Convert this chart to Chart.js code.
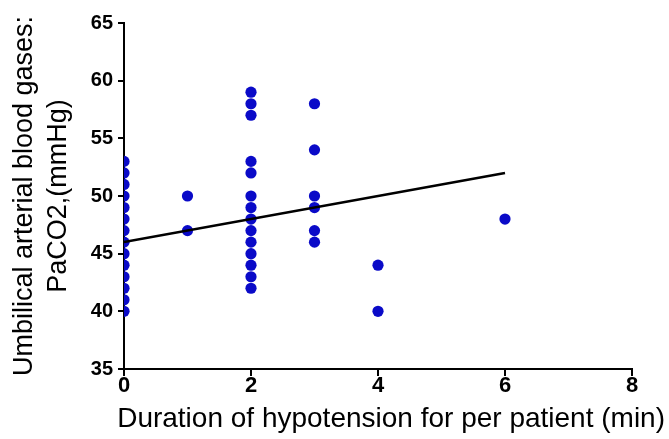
<!DOCTYPE html>
<html>
<head>
<meta charset="utf-8">
<script src="https://cdn.jsdelivr.net/npm/chart.js@4/dist/chart.umd.min.js"></script>
<style>
  html, body { margin: 0; padding: 0; background: #fff; }
  #wrap { width: 669px; height: 439px; position: relative; }
</style>
</head>
<body>
<div id="wrap"><canvas id="c" width="669" height="439"></canvas></div>
<script>
// Data
const durationGroups = [0, 1, 2, 3, 4, 6];
const paco2At0 = [40, 41, 42, 43, 44, 45, 46, 47, 48, 49, 50, 51, 52, 53];
const paco2At1 = [47, 50];
const paco2At2 = [42, 43, 44, 45, 46, 47, 48, 49, 50, 52, 53, 57, 58, 59];
const paco2At3 = [46, 47, 49, 50, 54, 58];
const paco2At4 = [40, 44];
const paco2At6 = [48];
const fitX = [0, 6];
const fitY = [46.0, 52.0];
const xTicks = [0, 2, 4, 6, 8];
const yTicks = [35, 40, 45, 50, 55, 60, 65];

const groups = [paco2At0, paco2At1, paco2At2, paco2At3, paco2At4, paco2At6];
const scatterPoints = [];
groups.forEach((vals, i) => vals.forEach(v => scatterPoints.push({ x: durationGroups[i], y: v })));
const fitPoints = fitX.map((x, i) => ({ x: x, y: fitY[i] }));

const FONT = "'Liberation Sans', Arial, sans-serif";

new Chart(document.getElementById('c'), {
  type: 'scatter',
  data: {
    datasets: [
      {
        type: 'line',
        data: fitPoints,
        borderColor: '#000',
        borderWidth: 2.5,
        pointRadius: 0,
        fill: false
      },
      {
        data: scatterPoints,
        backgroundColor: '#0a0ac8',
        borderColor: '#0a0ac8',
        borderWidth: 0,
        pointRadius: 5.6
      }
    ]
  },
  options: {
    responsive: false,
    animation: false,
    devicePixelRatio: 1,
    layout: { padding: { top: 23, right: 4, bottom: 0, left: 0 } },
    plugins: {
      legend: { display: false },
      tooltip: { enabled: false },
      title: {
        display: true,
        position: 'bottom',
        align: 'end',
        text: 'Duration of hypotension for per patient (min)',
        color: '#000',
        font: { family: FONT, size: 28, weight: 'normal', lineHeight: 0.8 },
        padding: { top: 0, bottom: 9 }
      }
    },
    scales: {
      x: {
        type: 'linear',
        min: 0, max: 8,
        afterBuildTicks: s => { s.ticks = xTicks.map(v => ({ value: v })); },
        afterFit: s => { s.height = 38.6; },
        border: { color: '#000', width: 2 },
        grid: { drawOnChartArea: false, drawTicks: true, tickLength: 7, color: '#000', lineWidth: 2 },
        ticks: { color: '#000', padding: -3, font: { family: FONT, size: 22, weight: 'bold' }, maxRotation: 0 }
      },
      y: {
        type: 'linear',
        min: 35, max: 65,
        afterBuildTicks: s => { s.ticks = yTicks.map(v => ({ value: v })); },
        afterFit: s => { s.width = 124; },
        border: { color: '#000', width: 2 },
        grid: { drawOnChartArea: false, drawTicks: true, tickLength: 6, color: '#000', lineWidth: 2 },
        ticks: { color: '#000', padding: 5, font: { family: FONT, size: 20, weight: 'bold' } },
        title: {
          display: true,
          text: ['Umbilical arterial blood gases:', 'PaCO2,(mmHg)'],
          color: '#000',
          font: { family: FONT, size: 27, lineHeight: 1.25 },
          padding: { top: 8, bottom: 0 }
        }
      },
      yRightSpace: {
        type: 'linear',
        position: 'right',
        display: true,
        afterFit: s => { s.width = 33; },
        border: { display: false },
        grid: { display: false, drawTicks: false },
        ticks: { display: false }
      }
    }
  }
});
</script>
</body>
</html>
